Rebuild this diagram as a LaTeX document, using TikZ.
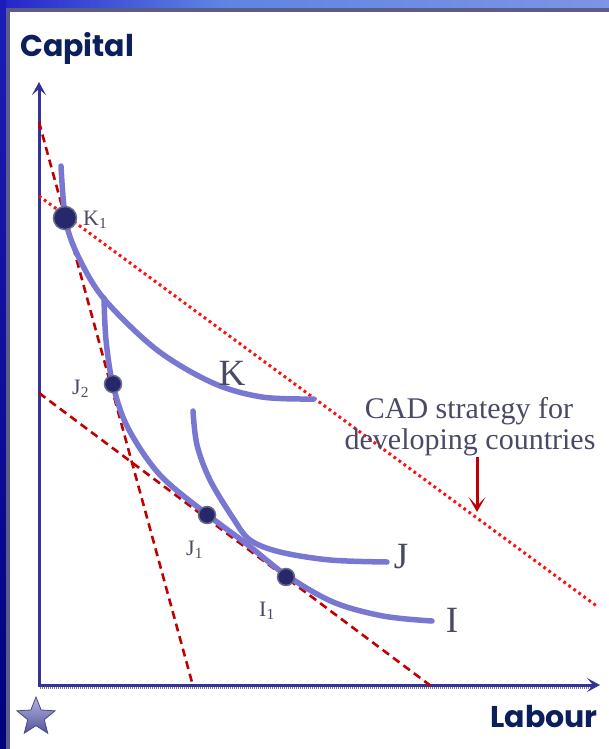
\documentclass[tikz,border=0pt]{standalone}
\usepackage{fontspec}
\newfontfamily\axisfont{Poppins}
\newfontfamily\labelfont{Liberation Serif}
\usetikzlibrary{arrows.meta,shapes.geometric}
\definecolor{curveblue}{HTML}{7878D2}
\definecolor{axisblue}{HTML}{333399}
\definecolor{dashred}{HTML}{C00000}
\definecolor{dotred}{HTML}{FF1010}
\definecolor{labelgray}{HTML}{4A4A66}
\definecolor{navytext}{HTML}{0B1F5C}
\definecolor{dotfill}{HTML}{27276B}
\definecolor{dotedge}{HTML}{6A6A8A}
\definecolor{bandA}{HTML}{2424C8}
\definecolor{bandB}{HTML}{5E84E2}
\definecolor{bandC}{HTML}{7E94E4}
\definecolor{leftA}{HTML}{1C1CB8}
\definecolor{leftB}{HTML}{00007E}
\definecolor{edgegray}{HTML}{5C5C88}
\definecolor{starA}{HTML}{B4B4E4}
\definecolor{starB}{HTML}{54549A}
\definecolor{starEdge}{HTML}{4A4A80}
\tikzset{
  curve/.style={draw=curveblue, line width=5.5pt, line cap=round},
  axisline/.style={draw=axisblue, line width=3pt, {Stealth[length=13pt,width=14pt,inset=6pt]}-{Stealth[length=13pt,width=14pt,inset=6pt]}},
  budget/.style={draw=dashred, line width=2.6pt, dash pattern=on 8pt off 5pt},
  cadline/.style={draw=dotred, line width=3pt, dash pattern=on 2.8pt off 3.4pt},
  bigdot/.style={circle, fill=dotfill, draw=dotedge, line width=1.5pt, minimum size=23pt, inner sep=0pt},
  smalldot/.style={circle, fill=dotfill, draw=dotedge, line width=1.5pt, minimum size=17pt, inner sep=0pt},
  smalllabel/.style={text=labelgray, font=\labelfont\fontsize{22}{26}\selectfont, inner sep=0pt},
  biglabel/.style={text=labelgray, font=\labelfont\fontsize{37}{44}\selectfont, inner sep=0pt},
  cadtext/.style={text=labelgray, font=\labelfont\fontsize{30}{34}\selectfont, inner sep=0pt},
  axistitle/.style={text=navytext, font=\axisfont\bfseries\fontsize{30}{34}\selectfont, inner sep=0pt}
}
\begin{document}
\begin{tikzpicture}[x=1pt,y=-1pt]
\useasboundingbox (0,0) rectangle (609,749);
\fill[white] (0,0) rectangle (609,749);
% frame
\shade[left color=bandA, right color=bandB] (0,0) rectangle (220,8);
\shade[left color=bandB, right color=bandC] (220,0) rectangle (609,8);
\shade[top color=leftA, bottom color=leftB] (0,0) rectangle (6,749);
\fill[edgegray] (6,8) rectangle (609,12);
\fill[edgegray] (6,8) rectangle (10,749);

% axis titles
\node[axistitle, anchor=base west] (cap) at (20,57) {Capital};
\node[axistitle, anchor=base east] (lab) at (598,727) {Labour};

% axes
\coordinate (Ytop) at (39,82);
\coordinate (O) at (39,685);
\coordinate (Xend) at (600,685);
\coordinate (sh1) at (40,688);
\coordinate (sh2) at (594,688);
\draw[gray, line width=2.5pt, dash pattern=on 1pt off 1pt] (sh1) -- (sh2);
\draw[axisline] (Ytop) -- (O) -- (Xend);

% budget lines
\coordinate (s1) at (39,122);
\coordinate (s2) at (193,686);
\coordinate (m1) at (39,393);
\coordinate (m2) at (431,686);
\coordinate (c1) at (39,196);
\coordinate (c2) at (598,607);
\draw[budget] (s1) -- (s2);
\draw[budget] (m1) -- (m2);
\draw[cadline] (c1) -- (c2);

% isoquants
\draw[curve] plot[smooth, tension=0.55] coordinates {(61,166) (66,222) (80,260) (105,300) (157,350) (213,383) (262,397) (314,399)};
\draw[curve] plot[smooth, tension=0.55] coordinates {(104,298) (106,340) (113,385) (128,428) (160,475) (208,515) (248,545) (286,575) (333,602) (383,616) (432,621)};
\draw[curve] plot[smooth, tension=0.55] coordinates {(193,411) (197,445) (210,480) (233,518) (250,540) (280,552) (330,560) (387,562)};

% points
\node[bigdot] (K1) at (65,218) {};
\node[smalldot] (J2) at (113,384) {};
\node[smalldot] (J1) at (207,515) {};
\node[smalldot] (I1) at (286,577) {};

% labels
\node[smalllabel, anchor=base west] (lK1) at (83,225) {K\textsubscript{1}};
\node[smalllabel, anchor=base west] (lJ2) at (72,394) {J\textsubscript{2}};
\node[smalllabel, anchor=base west] (lJ1) at (186,555) {J\textsubscript{1}};
\node[smalllabel, anchor=base west] (lI1) at (259,616) {I\textsubscript{1}};
\node[biglabel, anchor=base] (lK) at (232,385) {K};
\node[biglabel, anchor=base] (lJ) at (401,568) {J};
\node[biglabel, anchor=base] (lI) at (452,632) {I};

% CAD note
\node[cadtext, anchor=base] (cad1) at (469,418) {CAD strategy for};
\node[cadtext, anchor=base] (cad2) at (470,449) {developing countries};
\coordinate (ar1) at (477,457);
\coordinate (ar2) at (477,512);
\draw[draw=dashred, line width=3pt, -{Stealth[length=15pt,width=17pt,inset=9pt]}] (ar1) -- (ar2);

% star
\node[star, star points=5, star point ratio=2.3, minimum size=40pt, inner sep=0pt,
      top color=starA, bottom color=starB, draw=starEdge, line width=0.8pt] (star) at (36,717) {};
\end{tikzpicture}
\end{document}
